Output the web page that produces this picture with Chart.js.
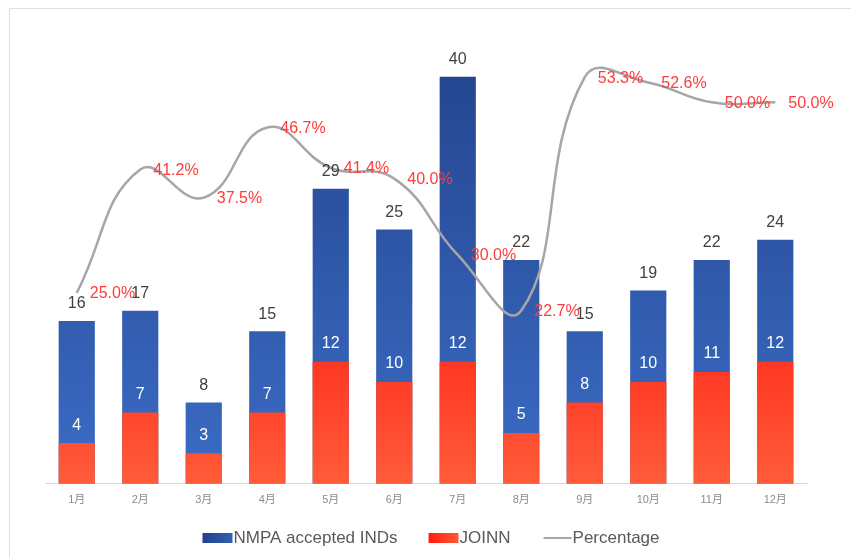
<!DOCTYPE html>
<html>
<head>
<meta charset="utf-8">
<script src="https://cdn.jsdelivr.net/npm/chart.js@4/dist/chart.umd.min.js"></script>
<style>
  html, body { margin: 0; padding: 0; background: #fafafa; }
  #wrap { position: absolute; left: 0; top: 0; width: 851px; height: 557px; background: #fff; }
  #frame { position: absolute; left: 9px; top: 8px; width: 860px; height: 560px; border: 1px solid #dedede; pointer-events: none; }
</style>
</head>
<body>
<div id="wrap">
  <canvas id="chart" width="851" height="557"></canvas>
  <div id="frame"></div>
</div>
<script>
const months = ['1月', '2月', '3月', '4月', '5月', '6月', '7月', '8月', '9月', '10月', '11月', '12月'];
const nmpaINDs = [16, 17, 8, 15, 29, 25, 40, 22, 15, 19, 22, 24];
const joinnINDs = [4, 7, 3, 7, 12, 10, 12, 5, 8, 10, 11, 12];
const percentage = [0.25, 0.412, 0.375, 0.467, 0.414, 0.40, 0.30, 0.227, 0.533, 0.526, 0.50, 0.50];

const FONT = '"Liberation Sans", Arial, "Noto Sans CJK SC", sans-serif';

function blueFill(ctx) {
  const area = ctx.chart.chartArea;
  if (!area) return '#2f5597';
  const g = ctx.chart.ctx.createLinearGradient(0, area.top, 0, area.bottom);
  g.addColorStop(0, '#22428a');
  g.addColorStop(1, '#3b6cc5');
  return g;
}

function redFill(ctx) {
  const area = ctx.chart.chartArea;
  if (!area) return '#ff3020';
  const g = ctx.chart.ctx.createLinearGradient(0, area.top + 240, 0, area.bottom);
  g.addColorStop(0, '#ff1a10');
  g.addColorStop(1, '#ff5c3a');
  return g;
}

// labels drawn by hand (no datalabels plugin available)
const labelPlugin = {
  id: 'labels',
  afterDatasetsDraw(chart) {
    const c = chart.ctx;
    c.save();
    c.textBaseline = 'middle';
    const metaBlue = chart.getDatasetMeta(1);
    const metaRed = chart.getDatasetMeta(2);
    const metaLine = chart.getDatasetMeta(0);

    c.font = '16px ' + FONT;
    c.textAlign = 'center';
    metaBlue.data.forEach((bar, i) => {
      c.fillStyle = '#404040';
      c.fillText(String(nmpaINDs[i]), bar.x, bar.y - 17);
    });
    metaRed.data.forEach((bar, i) => {
      c.fillStyle = '#ffffff';
      c.fillText(String(joinnINDs[i]), bar.x, bar.y - 18);
    });

    c.font = '16px ' + FONT;
    c.textAlign = 'left';
    c.fillStyle = '#ff3b3b';
    metaLine.data.forEach((pt, i) => {
      c.fillText((percentage[i] * 100).toFixed(1) + '%', pt.x + 13, pt.y + 1);
    });
    c.restore();
  }
};

// bottom legend
const legendPlugin = {
  id: 'bottomLegend',
  afterDraw(chart) {
    const c = chart.ctx;
    c.save();
    c.font = '17px ' + FONT;
    c.textBaseline = 'middle';
    c.textAlign = 'left';
    const y = 538;
    const items = [
      { text: 'NMPA accepted INDs', kind: 'box', color: ['#22428a', '#3160b4'] },
      { text: 'JOINN', kind: 'box', color: ['#ff1a10', '#ff5c3a'] },
      { text: 'Percentage', kind: 'line', color: '#a6a6a6' }
    ];
    let total = 0;
    const gap = 30;
    items.forEach(it => { it.w = 32 + c.measureText(it.text).width; total += it.w; });
    total += gap * (items.length - 1);
    let x = (chart.width - total) / 2 + 6;
    items.forEach(it => {
      if (it.kind === 'box') {
        const g = c.createLinearGradient(x, 0, x + 30, 0);
        g.addColorStop(0, it.color[0]);
        g.addColorStop(1, it.color[1]);
        c.fillStyle = g;
        c.fillRect(x, y - 5, 30, 10);
      } else {
        c.strokeStyle = it.color;
        c.lineWidth = 2;
        c.beginPath();
        c.moveTo(x + 2, y);
        c.lineTo(x + 30, y);
        c.stroke();
      }
      c.fillStyle = '#595959';
      c.fillText(it.text, x + 31, y);
      x += it.w + gap;
    });
    c.restore();
  }
};

new Chart(document.getElementById('chart'), {
  type: 'bar',
  data: {
    labels: months,
    datasets: [
      {
        type: 'line',
        label: 'Percentage',
        data: percentage,
        yAxisID: 'y2',
        borderColor: '#a6a6a6',
        backgroundColor: '#a6a6a6',
        borderWidth: 2.5,
        pointRadius: 0,
        tension: 0.45,
        order: 0
      },
      {
        label: 'NMPA accepted INDs',
        data: nmpaINDs,
        backgroundColor: blueFill,
        grouped: false,
        categoryPercentage: 1,
        barPercentage: 0.57,
        order: 2
      },
      {
        label: 'JOINN',
        data: joinnINDs,
        backgroundColor: redFill,
        grouped: false,
        categoryPercentage: 1,
        barPercentage: 0.57,
        order: 1
      }
    ]
  },
  options: {
    responsive: false,
    animation: false,
    layout: { padding: { left: 45, right: 44, top: 26, bottom: 40 } },
    plugins: {
      legend: { display: false },
      tooltip: { enabled: false }
    },
    scales: {
      x: {
        grid: { display: false, drawTicks: false },
        border: { display: true, color: '#d9d9d9', width: 1 },
        ticks: { color: '#8c8c8c', font: { size: 11, family: FONT }, padding: 10 }
      },
      y: { display: false, min: 0, max: 45 },
      y2: { display: false, min: 0, max: 0.6, position: 'right' }
    }
  },
  plugins: [labelPlugin, legendPlugin]
});
</script>
</body>
</html>
